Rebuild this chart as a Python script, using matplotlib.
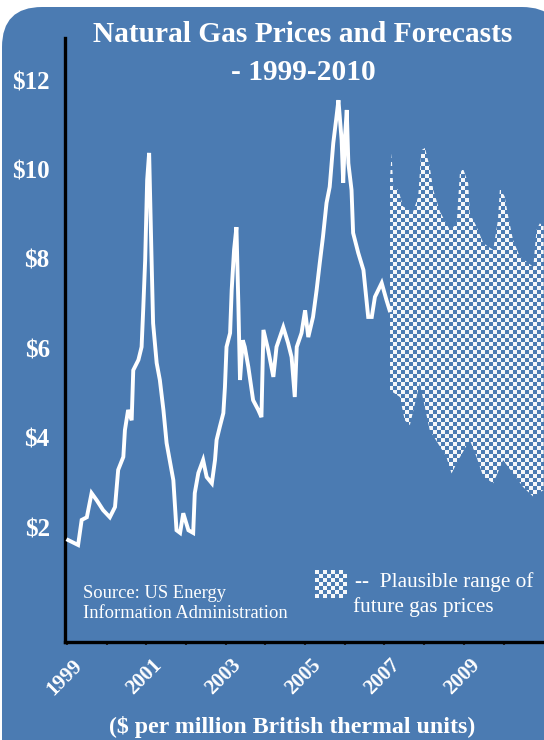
import numpy as np
import matplotlib
matplotlib.use('Agg')
import matplotlib.pyplot as plt
from matplotlib.patches import FancyBboxPatch, Polygon
from matplotlib.transforms import IdentityTransform, blended_transform_factory

# ---------------- data ----------------
price_years = [1999.03, 1999.28, 1999.37, 1999.50, 1999.62, 1999.75, 1999.91, 2000.08,
               2000.21, 2000.29, 2000.42, 2000.46, 2000.54, 2000.63, 2000.67, 2000.80,
               2000.88, 2000.92, 2000.97, 2001.02, 2001.07, 2001.13, 2001.17, 2001.26,
               2001.34, 2001.43, 2001.51, 2001.68, 2001.76, 2001.85, 2001.93, 2002.06,
               2002.18, 2002.22, 2002.31, 2002.43, 2002.52, 2002.65, 2002.73, 2002.77,
               2002.85, 2002.94, 2002.98, 2003.02, 2003.11, 2003.15, 2003.21, 2003.27,
               2003.32, 2003.36, 2003.43, 2003.48, 2003.57, 2003.69, 2003.82, 2003.90,
               2003.95, 2004.07, 2004.20, 2004.28, 2004.45, 2004.57, 2004.66, 2004.74,
               2004.79, 2004.91, 2005.00, 2005.08, 2005.20, 2005.29, 2005.37, 2005.45,
               2005.54, 2005.62, 2005.71, 2005.79, 2005.84, 2005.92, 2005.96, 2006.00,
               2006.05, 2006.09, 2006.17, 2006.21, 2006.34, 2006.47, 2006.59, 2006.68,
               2006.76, 2006.93, 2007.05, 2007.13]
prices = [1.71, 1.60, 2.16, 2.22, 2.76, 2.60, 2.38, 2.22,
          2.45, 3.28, 3.57, 4.17, 4.62, 4.39, 5.51, 5.74,
          6.03, 6.85, 7.97, 9.76, 10.37, 8.04, 6.56, 5.67,
          5.29, 4.62, 3.88, 3.05, 1.93, 1.87, 2.31, 1.93,
          1.87, 2.76, 3.21, 3.50, 3.12, 2.98, 3.50, 3.95,
          4.24, 4.55, 5.13, 6.03, 6.34, 7.30, 8.20, 8.71,
          6.92, 5.29, 6.18, 6.03, 5.58, 4.84, 4.62, 4.46,
          6.41, 5.96, 5.36, 6.03, 6.47, 6.12, 5.80, 4.91,
          6.03, 6.34, 6.85, 6.25, 6.70, 7.30, 7.91, 8.49,
          9.25, 9.61, 10.59, 11.17, 11.55, 10.66, 9.70, 10.66,
          11.33, 10.14, 9.54, 8.58, 8.13, 7.75, 6.70, 6.70,
          7.15, 7.46, 7.08, 6.85]

upper_years = [2007.14, 2007.18, 2007.22, 2007.35, 2007.47, 2007.72, 2007.85, 2007.93,
               2008.02, 2008.14, 2008.23, 2008.40, 2008.65, 2008.82, 2008.90, 2008.98,
               2009.11, 2009.15, 2009.32, 2009.49, 2009.74, 2009.86, 2009.91, 2010.03,
               2010.12, 2010.24, 2010.41, 2010.75, 2010.83, 2010.91, 2011.01]
upper_prices = [9.80, 10.36, 9.61, 9.54, 9.17, 9.05, 9.39, 10.43,
                10.48, 10.06, 9.54, 9.05, 8.64, 8.79, 9.91, 10.02,
                9.69, 9.02, 8.72, 8.35, 8.20, 8.87, 9.58, 9.39,
                8.94, 8.42, 8.05, 7.82, 8.64, 8.79, 8.76]

lower_years = [2007.14, 2007.39, 2007.51, 2007.64, 2007.89, 2008.14, 2008.56, 2008.69,
               2008.86, 2009.15, 2009.32, 2009.49, 2009.74, 2009.99, 2010.24, 2010.49,
               2010.75, 2011.01]
lower_prices = [5.06, 4.91, 4.39, 4.28, 5.22, 4.17, 3.57, 3.20,
                3.50, 3.95, 3.57, 3.13, 2.98, 3.50, 3.20, 2.90,
                2.68, 2.83]

ytick_values = [2, 4, 6, 8, 10, 12]
ytick_labels = ['$2', '$4', '$6', '$8', '$10', '$12']
xtick_years = list(range(1999, 2011))
xlabel_years = [1999, 2001, 2003, 2005, 2007, 2009]

# ---------------- style ----------------
BG = '#4b7bb2'
SERIF = ['Liberation Serif', 'DejaVu Serif']
W, H = 544, 740
X0, X1 = 1998.95, 2011.02
Y0, Y1 = -0.57, 12.94

def fxy(x, y):
    return x / W, 1 - y / H

fig = plt.figure(figsize=(W / 100, H / 100), dpi=100)
fig.patch.set_facecolor('white')

bg = FancyBboxPatch((2, -60), 560, 733 + 60,
                    boxstyle='round,pad=0,rounding_size=40',
                    transform=IdentityTransform(), facecolor=BG,
                    edgecolor='none', zorder=-10)
fig.add_artist(bg)

ax_l, ax_r, ax_t, ax_b = 65, 544, 38, 642
ax = fig.add_axes([ax_l / W, 1 - ax_b / H, (ax_r - ax_l) / W, (ax_b - ax_t) / H])
ax.patch.set_visible(False)

# checkerboard forecast band
cell = 4.0
px_per_x = (ax_r - ax_l) / (X1 - X0)
px_per_y = (ax_b - ax_t) / (Y1 - Y0)
nx = int((ax_r - ax_l) / cell) + 2
ny = int((ax_b - ax_t) / cell) + 2
ii, jj = np.indices((ny, nx))
chk = np.zeros((ny, nx, 4))
mask = (ii + jj) % 2 == 0
chk[mask] = [1, 1, 1, 0.95]
im = ax.imshow(chk, extent=(X0, X0 + nx * cell / px_per_x, Y1 - ny * cell / px_per_y, Y1),
               origin='upper', aspect='auto', interpolation='nearest', zorder=2)
poly = Polygon(np.column_stack([upper_years + lower_years[::-1],
                                upper_prices + lower_prices[::-1]]),
               closed=True, facecolor='none', edgecolor='none', transform=ax.transData)
ax.add_patch(poly)
im.set_clip_path(poly)

# price line
ax.plot(price_years, prices, color='white', lw=2.8, zorder=3, solid_joinstyle='miter')

ax.set_xlim(X0, X1)
ax.set_ylim(Y0, Y1)

for s in ['top', 'right']:
    ax.spines[s].set_visible(False)
for s in ['left', 'bottom']:
    ax.spines[s].set_color('black')
    ax.spines[s].set_linewidth(2.4)

ax.set_yticks(ytick_values)
ax.set_yticklabels(ytick_labels, fontfamily=SERIF, fontweight='bold', fontsize=18, color='white')
ax.tick_params(axis='y', length=0, pad=11)
ax.set_xticks(xtick_years)
ax.set_xticklabels([])
ax.tick_params(axis='x', direction='out', length=2.5, width=1.5, color='#222222')

trans = blended_transform_factory(ax.transData, ax.transAxes)
for yr in xlabel_years:
    ax.text(yr + 0.5, -0.022, str(yr), transform=trans, rotation=45,
            ha='right', va='top', fontfamily=SERIF, fontweight='bold',
            fontsize=15, color='white', clip_on=False)

# titles and notes
fig.text(*fxy(303, 35), 'Natural Gas Prices and Forecasts', ha='center', va='center',
         fontfamily=SERIF, fontweight='bold', fontsize=21.2, color='white')
fig.text(*fxy(303, 73), '- 1999-2010', ha='center', va='center',
         fontfamily=SERIF, fontweight='bold', fontsize=21.2, color='white')
fig.text(*fxy(292, 727), '($ per million British thermal units)', ha='center', va='center',
         fontfamily=SERIF, fontweight='bold', fontsize=17.2, color='white')
fig.text(*fxy(83, 593), 'Source: US Energy', ha='left', va='center',
         fontfamily=SERIF, fontsize=13.3, color='white')
fig.text(*fxy(83, 613), 'Information Administration', ha='left', va='center',
         fontfamily=SERIF, fontsize=13.3, color='white')
fig.text(*fxy(355, 582), '--  Plausible range of', ha='left', va='center',
         fontfamily=SERIF, fontsize=15.3, color='white')
fig.text(*fxy(353, 607), 'future gas prices', ha='left', va='center',
         fontfamily=SERIF, fontsize=15.3, color='white')

# legend swatch
lax = fig.add_axes([315 / W, 1 - 598 / H, 31 / W, 28 / H])
lii, ljj = np.indices((7, 8))
lchk = np.zeros((7, 8, 4))
lchk[(lii + ljj) % 2 == 0] = [1, 1, 1, 0.95]
lax.imshow(lchk, aspect='auto', interpolation='nearest')
lax.axis('off')

fig.savefig('out.png', dpi=100, facecolor='white')
